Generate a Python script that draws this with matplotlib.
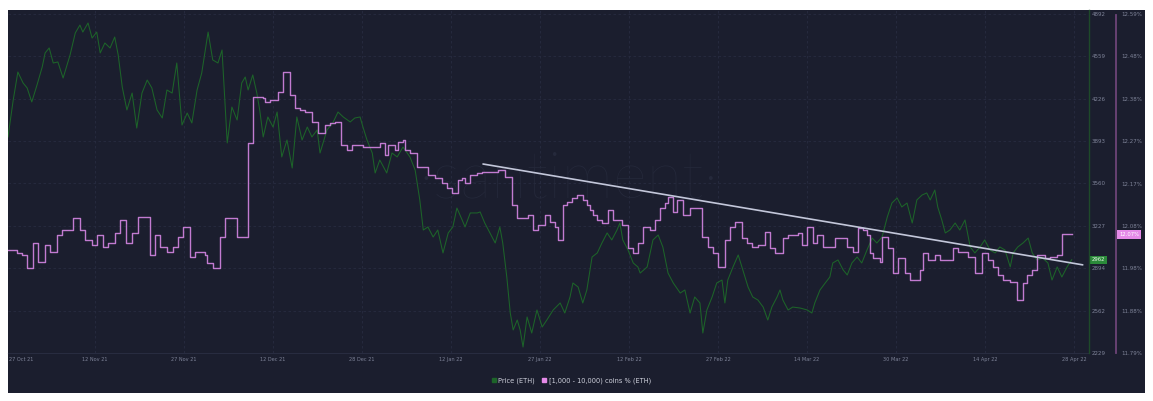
import matplotlib
matplotlib.use("Agg")
import matplotlib.pyplot as plt
import numpy as np
from matplotlib.patches import Rectangle
from matplotlib.lines import Line2D
from matplotlib import transforms

# ---------------- data ----------------
date_labels = ["27 Oct 21", "12 Nov 21", "27 Nov 21", "12 Dec 21", "28 Dec 21", "12 Jan 22",
               "27 Jan 22", "12 Feb 22", "27 Feb 22", "14 Mar 22", "30 Mar 22", "14 Apr 22", "28 Apr 22"]

price_ticks = [2229, 2562, 2895, 3228, 3561, 3894, 4227, 4560, 4893]
price_labels = ["2229", "2562", "2894", "3227", "3560", "3893", "4226", "4559", "4892"]
pct_labels = ["11.79%", "11.88%", "11.98%", "12.08%", "12.17%", "12.27%", "12.38%", "12.48%", "12.59%"]

# days since 25 Oct 2021
green_day = [0.0, 0.9, 1.7, 2.6, 3.3, 4.1, 5.0, 5.9, 6.4, 7.1,
             7.8, 8.6, 9.5, 10.7, 11.6, 12.4, 12.9, 13.8, 14.5, 15.3,
             15.9, 16.7, 17.6, 18.4, 19.0, 19.7, 20.5, 21.4, 22.2, 23.1,
             24.0, 24.8, 25.7, 26.6, 27.4, 28.3, 29.1, 30.0, 30.9, 31.7,
             32.6, 33.4, 34.5, 35.3, 36.2, 36.9, 37.8, 38.6, 39.5, 40.3,
             40.9, 41.4, 42.2, 42.9, 43.4, 44.0, 44.8, 45.7, 46.4, 47.2,
             48.1, 49.0, 49.8, 50.7, 51.6, 52.4, 53.3, 53.8, 55.0, 56.0,
             56.9, 57.8, 59.0, 59.8, 60.7, 61.2, 61.9, 62.8, 63.3, 64.1,
             65.3, 66.2, 67.1, 68.1, 69.3, 70.2, 71.0, 71.6, 72.4, 73.3,
             74.1, 75.0, 75.9, 76.7, 77.4, 78.3, 78.8, 79.7, 80.9, 81.4,
             82.2, 83.1, 84.0, 84.8, 85.3, 86.0, 86.6, 87.1, 87.8, 88.3,
             88.8, 89.5, 90.3, 91.2, 92.1, 92.9, 94.0, 95.2, 96.0, 96.9,
             97.4, 98.3, 99.1, 99.8, 100.7, 101.6, 102.4, 103.3, 104.1, 105.0,
             105.5, 106.0, 106.9, 107.8, 108.6, 109.0, 110.2, 111.2, 112.1, 112.9,
             113.8, 114.7, 115.9, 116.7, 117.6, 118.4, 119.3, 119.8, 120.5, 121.4,
             122.2, 123.1, 123.6, 124.1, 125.0, 125.9, 126.7, 127.6, 128.4, 129.3,
             130.2, 131.0, 131.7, 132.6, 133.1, 133.6, 134.5, 135.3, 136.6, 137.8,
             138.6, 139.1, 140.0, 140.9, 141.7, 142.2, 143.1, 144.0, 144.7, 145.5,
             146.4, 147.2, 148.1, 149.0, 149.8, 150.7, 151.6, 152.4, 153.3, 154.1,
             155.0, 155.9, 156.7, 157.6, 158.4, 159.0, 159.8, 160.3, 161.0, 161.6,
             162.4, 163.3, 164.1, 165.0, 165.9, 166.7, 167.6, 168.4, 169.3, 170.2,
             171.0, 171.9, 172.8, 173.3, 174.1, 175.0, 175.9, 176.6, 177.4, 178.4,
             179.3, 180.0, 180.9, 181.7, 182.6, 183.4]

green_price = [3926, 4216, 4436, 4350, 4311, 4201, 4334, 4476, 4586, 4625,
               4507, 4515, 4389, 4570, 4743, 4805, 4750, 4821, 4703, 4750,
               4586, 4664, 4625, 4711, 4570, 4318, 4138, 4271, 3996, 4271,
               4373, 4311, 4138, 4075, 4295, 4271, 4507, 4020, 4114, 4036,
               4295, 4428, 4750, 4531, 4507, 4609, 3879, 4161, 4059, 4350,
               4397, 4295, 4413, 4271, 4138, 3926, 4083, 4004, 4122, 3769,
               3902, 3682, 4083, 3902, 4004, 3926, 3981, 3800, 3981, 4036,
               4122, 4083, 4044, 4075, 4083, 4004, 3902, 3800, 3643, 3745,
               3643, 3800, 3769, 3847, 3769, 3666, 3431, 3195, 3219, 3140,
               3195, 3015, 3172, 3219, 3368, 3274, 3219, 3329, 3329, 3337,
               3250, 3172, 3093, 3219, 3093, 2826, 2543, 2410, 2488, 2410,
               2276, 2512, 2386, 2567, 2433, 2488, 2567, 2622, 2543, 2669,
               2779, 2747, 2622, 2724, 2983, 3015, 3093, 3172, 3117, 3195,
               3250, 3117, 3038, 2936, 2905, 2857, 2905, 3117, 3156, 3062,
               2857, 2779, 2700, 2724, 2543, 2669, 2622, 2386, 2567, 2669,
               2779, 2802, 2622, 2802, 2905, 2999, 2881, 2747, 2669, 2645,
               2590, 2488, 2590, 2669, 2724, 2645, 2567, 2590, 2582, 2567,
               2543, 2622, 2724, 2779, 2826, 2936, 2960, 2881, 2842, 2936,
               2983, 2936, 3038, 3132, 3093, 3140, 3297, 3407, 3447, 3376,
               3407, 3250, 3431, 3470, 3486, 3431, 3509, 3376, 3274, 3172,
               3195, 3250, 3195, 3274, 3062, 3015, 3062, 3117, 3038, 3015,
               3062, 3038, 2905, 3015, 3062, 3093, 3132, 3015, 2960, 2975,
               2936, 2802, 2905, 2826, 2905, 2962]

pink_day = [0.0, 1.6, 2.4, 3.3, 4.3, 5.2, 6.4, 7.2, 8.4, 9.3,
            11.2, 12.4, 13.3, 14.5, 15.3, 16.4, 17.2, 18.4, 19.3, 20.3,
            21.4, 22.4, 24.5, 25.3, 26.2, 27.4, 28.4, 29.3, 30.2, 31.4,
            32.2, 34.0, 34.3, 35.3, 36.6, 37.4, 39.5, 41.4, 42.2, 44.0,
            44.3, 45.2, 46.6, 47.4, 48.6, 49.5, 50.3, 51.2, 52.4, 53.4,
            54.7, 55.5, 56.4, 57.4, 58.4, 59.3, 61.2, 64.1, 65.0, 65.5,
            66.7, 67.2, 68.1, 68.4, 69.3, 70.5, 72.4, 73.6, 74.8, 75.7,
            76.6, 77.6, 78.3, 78.8, 79.7, 80.9, 81.7, 84.5, 85.7, 86.9,
            87.8, 89.7, 90.5, 91.4, 92.6, 93.4, 94.3, 94.8, 95.7, 96.4,
            97.2, 98.1, 99.1, 99.8, 100.3, 100.9, 101.6, 102.4, 103.4, 104.3,
            105.9, 106.9, 107.8, 108.6, 109.5, 110.7, 111.6, 112.4, 113.3, 113.8,
            114.7, 115.3, 116.4, 117.6, 119.7, 120.7, 121.6, 122.4, 123.6, 124.5,
            125.3, 126.6, 127.4, 128.3, 129.3, 130.5, 131.4, 132.2, 133.6, 134.5,
            136.2, 136.9, 137.8, 138.8, 139.5, 140.5, 142.6, 144.7, 145.7, 146.6,
            147.4, 148.1, 148.6, 149.1, 150.3, 150.7, 151.7, 152.6, 153.4, 154.7,
            155.5, 157.2, 157.8, 158.6, 159.8, 160.7, 162.9, 163.8, 165.5, 166.7,
            167.9, 169.0, 169.8, 170.7, 171.6, 172.8, 174.0, 175.0, 175.7, 176.6,
            177.4, 178.8, 179.7, 180.9, 181.7, 183.4]

pink_pct = [12.033, 12.026, 12.021, 11.991, 12.050, 12.005, 12.045, 12.028, 12.068, 12.080,
            12.109, 12.080, 12.057, 12.045, 12.068, 12.040, 12.050, 12.073, 12.104, 12.050,
            12.073, 12.111, 12.021, 12.068, 12.040, 12.028, 12.040, 12.064, 12.087, 12.017,
            12.028, 12.021, 12.002, 11.991, 12.064, 12.109, 12.064, 12.286, 12.394, 12.392,
            12.382, 12.387, 12.406, 12.453, 12.399, 12.368, 12.363, 12.359, 12.335, 12.309,
            12.328, 12.333, 12.335, 12.281, 12.269, 12.281, 12.276, 12.286, 12.257, 12.281,
            12.269, 12.288, 12.293, 12.269, 12.262, 12.229, 12.210, 12.203, 12.191, 12.179,
            12.168, 12.198, 12.203, 12.191, 12.210, 12.215, 12.217, 12.222, 12.205, 12.139,
            12.109, 12.116, 12.080, 12.092, 12.116, 12.099, 12.087, 12.057, 12.139, 12.146,
            12.156, 12.163, 12.151, 12.139, 12.127, 12.116, 12.104, 12.097, 12.127, 12.104,
            12.092, 12.038, 12.026, 12.050, 12.087, 12.080, 12.104, 12.132, 12.144, 12.158,
            12.123, 12.151, 12.116, 12.132, 12.064, 12.040, 12.026, 11.993, 12.057, 12.087,
            12.099, 12.061, 12.050, 12.040, 12.045, 12.076, 12.038, 12.026, 12.061, 12.068,
            12.073, 12.045, 12.087, 12.050, 12.068, 12.040, 12.061, 12.040, 12.028, 12.085,
            12.080, 12.068, 12.026, 12.014, 12.005, 12.064, 12.038, 11.979, 12.014, 11.979,
            11.962, 11.986, 12.026, 12.009, 12.021, 12.009, 12.038, 12.028, 12.017, 11.979,
            12.026, 12.009, 11.993, 11.974, 11.962, 11.958, 11.915, 11.955, 11.974, 11.986,
            12.021, 12.014, 12.017, 12.021, 12.070, 12.070]

trend_day = [81.9, 185.3]
trend_pct = [12.236, 11.998]

last_price = 2962
last_pct = 12.07

# ---------------- style ----------------
BG = "#1b1e2e"
GRID = "#282c40"
GREEN = "#1d6429"
PINK = "#c27bd1"
TICK = "#7e8398"

W, H = 1153, 401
fig = plt.figure(figsize=(W / 100, H / 100), dpi=100)
fig.patch.set_facecolor("white")

def fx(px):
    return px / W

def fy(py):
    return 1 - py / H

fig.add_artist(Rectangle((fx(8), fy(393)), fx(1145) - fx(8), fy(10) - fy(393),
                         transform=fig.transFigure, facecolor=BG, edgecolor="none", zorder=-10))

ax = fig.add_axes([fx(8), fy(353), fx(1088) - fx(8), fy(10) - fy(353)])
ax.set_facecolor("none")
ax2 = ax.twinx()
ax2.set_facecolor("none")

xmax = (1088 - 8) / 5.8
ax.set_xlim(0, xmax)
ax.set_ylim(2229, 2229 + 343 * 7.855)
ax2.set_ylim(11.79, 11.79 + 343 * 0.0023599)

tick_days = np.r_[2.2, np.linspace(15.0, 183.8, 12)]

for a in (ax, ax2):
    for s in a.spines.values():
        s.set_visible(False)
ax.spines["bottom"].set_visible(True)
ax.spines["bottom"].set_color(GRID)
ax.spines["bottom"].set_linewidth(0.8)

ax.set_xticks(tick_days)
ax.set_xticklabels(date_labels)
ax.tick_params(axis="x", length=0, pad=3, labelsize=3.6, labelcolor=TICK)

ax.yaxis.set_ticks_position("right")
ax.set_yticks(price_ticks)
ax.set_yticklabels(price_labels)
ax.tick_params(axis="y", length=0, pad=2.3, labelsize=4, labelcolor=TICK)

pct_ticks = np.linspace(11.79, 12.59, 9)
ax2.set_yticks(pct_ticks)
ax2.set_yticklabels(pct_labels)
ax2.tick_params(axis="y", length=0, pad=24, labelsize=4, labelcolor=TICK)

# grid
for p in price_ticks[1:]:
    ax.axhline(p, color=GRID, lw=0.6, ls=(0, (3, 3)), zorder=0.5)
for d in tick_days[1:]:
    ax.axvline(d, color=GRID, lw=0.6, ls=(0, (3, 3)), zorder=0.5)

# watermark
ax.text((569 - 8) / 1080, (353 - 198) / 343, "\u00b7santiment\u00b7", transform=ax.transAxes,
        ha="center", va="baseline", fontsize=47, color="#25293b", family="Lato",
        fontweight="light", zorder=0.6)

ax.plot(green_day, green_price, color=GREEN, lw=0.75, zorder=2)
ax2.plot(pink_day, pink_pct, color=PINK, lw=1.0, drawstyle="steps-post", zorder=2)
ax2.plot(trend_day, trend_pct, color="#c3c7da", lw=1.2, zorder=3, solid_capstyle="round")

# axis lines at right
fig.add_artist(Line2D([fx(1088.5), fx(1088.5)], [fy(10), fy(353)], transform=fig.transFigure,
                      color="#1e4a29", lw=1.0))
fig.add_artist(Line2D([fx(1116), fx(1116)], [fy(15), fy(353)], transform=fig.transFigure,
                      color="#6d4478", lw=1.3))

# value badges
tr1 = transforms.blended_transform_factory(ax.transAxes, ax.transData)
ax.text(1.0 + 3.5 / 1080, last_price, str(last_price), transform=tr1, ha="left", va="center",
        fontsize=3.8, color="#e8f5e8", clip_on=False, zorder=5,
        bbox=dict(boxstyle="square,pad=0.3", fc="#2b8a3a", ec="none"))
tr2 = transforms.blended_transform_factory(ax2.transAxes, ax2.transData)
ax2.text(1.0 + 31 / 1080, last_pct, f"{last_pct:.2f}%", transform=tr2, ha="left", va="center",
         fontsize=3.8, color="white", clip_on=False, zorder=5,
         bbox=dict(boxstyle="square,pad=0.35", fc="#e58ae8", ec="none"))

# legend
handles = [Line2D([], [], marker="s", ls="none", color=GREEN, markersize=3.2),
           Line2D([], [], marker="s", ls="none", color="#e58ae8", markersize=3.2)]
fig.legend(handles, ["Price (ETH)", "[1,000 - 10,000) coins % (ETH)"], loc="center",
           bbox_to_anchor=(fx(571), fy(381)), ncol=2, frameon=False, fontsize=4.8,
           labelcolor="#cfd1dc", handlelength=0.8, handletextpad=0.3, columnspacing=1.0)

fig.savefig("out.png", dpi=100, facecolor="white")
